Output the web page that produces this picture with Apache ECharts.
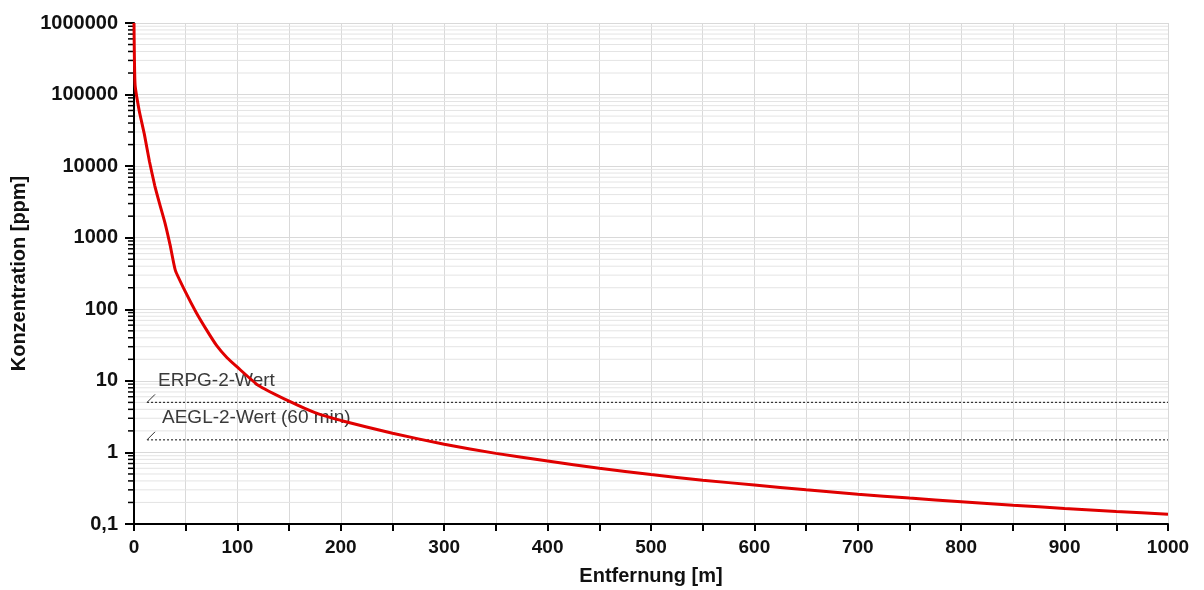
<!DOCTYPE html>
<html>
<head>
<meta charset="utf-8">
<script src="https://cdn.jsdelivr.net/npm/echarts@6/dist/echarts.min.js"></script>
<style>html,body{margin:0;padding:0;background:#fff;}#c{width:1204px;height:590px;}</style>
</head>
<body>
<div id="c"></div>
<script>
// Distance [m]
var distances = [0, 1, 5, 10, 15, 20, 25, 30, 35, 40, 50, 60, 70, 80, 90, 100, 120, 150, 175, 200, 250, 300, 350, 400, 450, 500, 550, 600, 650, 700, 750, 800, 850, 900, 950, 1000];
// Concentration [ppm]
var concentrations = [1000000, 140000, 60000, 28000, 11500, 5400, 2900, 1600, 780, 350, 172, 91, 52, 31, 21, 15.5, 8.7, 5.2, 3.6, 2.8, 1.85, 1.3, 0.97, 0.76, 0.6, 0.49, 0.41, 0.35, 0.3, 0.26, 0.23, 0.205, 0.183, 0.165, 0.15, 0.137];
// Threshold values
var thresholdValues = [5, 1.5];
var thresholdLabels = ['ERPG-2-Wert', 'AEGL-2-Wert (60 min)'];
var thresholdStart = 12.6;
var thresholdEnd = 1000;
// Minor grid values (2..9 per decade)
var minorGrid = [];
for (var k = -1; k <= 5; k++) {
  for (var m = 2; m <= 9; m++) minorGrid.push(m * Math.pow(10, k));
}

var curve = distances.map(function (d, i) { return [d, concentrations[i]]; });
var font = '"Liberation Sans", Arial, sans-serif';

var chart = echarts.init(document.getElementById('c'));
chart.setOption({
  animation: false,
  backgroundColor: '#fff',
  grid: { left: 134, right: 36, top: 23, bottom: 66, containLabel: false, outerBoundsMode: 'none' },
  xAxis: {
    type: 'value', min: 0, max: 1000, interval: 50,
    name: 'Entfernung [m]', nameLocation: 'middle', nameGap: 42,
    nameTextStyle: { fontFamily: font, fontWeight: 'bold', fontSize: 20, color: '#111' },
    axisLine: { show: true, lineStyle: { color: '#000', width: 2 } },
    axisTick: { show: true, length: 7, lineStyle: { color: '#000', width: 2 } },
    axisLabel: {
      margin: 14, fontFamily: font, fontWeight: 'bold', fontSize: 19, color: '#111',
      formatter: function (v) { return v % 100 === 0 ? String(v) : ''; }
    },
    splitLine: { show: true, lineStyle: { color: '#d9d9d9', width: 1 } }
  },
  yAxis: {
    type: 'log', logBase: 10, min: 0.1, max: 1000000,
    name: 'Konzentration [ppm]', nameLocation: 'middle', nameGap: 105,
    nameTextStyle: { fontFamily: font, fontWeight: 'bold', fontSize: 20, color: '#111' },
    axisLine: { show: true, lineStyle: { color: '#000', width: 2 } },
    axisTick: { show: true, length: 9, lineStyle: { color: '#000', width: 2 } },
    axisLabel: {
      margin: 16, fontFamily: font, fontWeight: 'bold', fontSize: 20, color: '#111',
      formatter: function (v) { return String(v).replace('.', ','); }
    },
    splitLine: { show: true, lineStyle: { color: '#d9d9d9', width: 1 } }
  },
  series: [
    {
      type: 'custom', silent: true, z: 1,
      data: minorGrid.map(function (v) { return [0, v]; }),
      encode: { x: 0, y: 1 },
      renderItem: function (params, api) {
        var p = api.coord([0, api.value(1)]);
        var cs = params.coordSys;
        return {
          type: 'group',
          children: [
            { type: 'line', shape: { x1: cs.x + 1, y1: p[1], x2: cs.x + cs.width, y2: p[1] },
              style: { stroke: '#e4e4e4', lineWidth: 1 } },
            { type: 'line', shape: { x1: cs.x - 6, y1: p[1], x2: cs.x, y2: p[1] },
              style: { stroke: '#000', lineWidth: 1.5 } }
          ]
        };
      }
    },
    {
      type: 'custom', silent: true, z: 3,
      data: thresholdValues.map(function (v) { return [thresholdStart, v]; }),
      encode: { x: 0, y: 1 },
      renderItem: function (params, api) {
        var p = api.coord([api.value(0), api.value(1)]);
        var e = api.coord([thresholdEnd, api.value(1)]);
        var dx = params.dataIndex === 0 ? 11 : 15;
        return {
          type: 'group',
          children: [
            { type: 'line', shape: { x1: p[0], y1: p[1], x2: e[0], y2: e[1] },
              style: { stroke: '#333', lineWidth: 1.2, lineDash: [2, 2] } },
            { type: 'line', shape: { x1: p[0], y1: p[1], x2: p[0] + 8, y2: p[1] - 8 },
              style: { stroke: '#333', lineWidth: 1 } },
            { type: 'text', x: p[0] + dx, y: p[1] - 22,
              style: { text: thresholdLabels[params.dataIndex], fill: '#3a3a3a',
                       font: '19px ' + font, verticalAlign: 'middle', align: 'left' } }
          ]
        };
      }
    },
    {
      type: 'line', data: curve, showSymbol: false, smooth: 0.15, z: 4,
      lineStyle: { color: '#e00000', width: 3 }
    }
  ]
});
</script>
</body>
</html>
